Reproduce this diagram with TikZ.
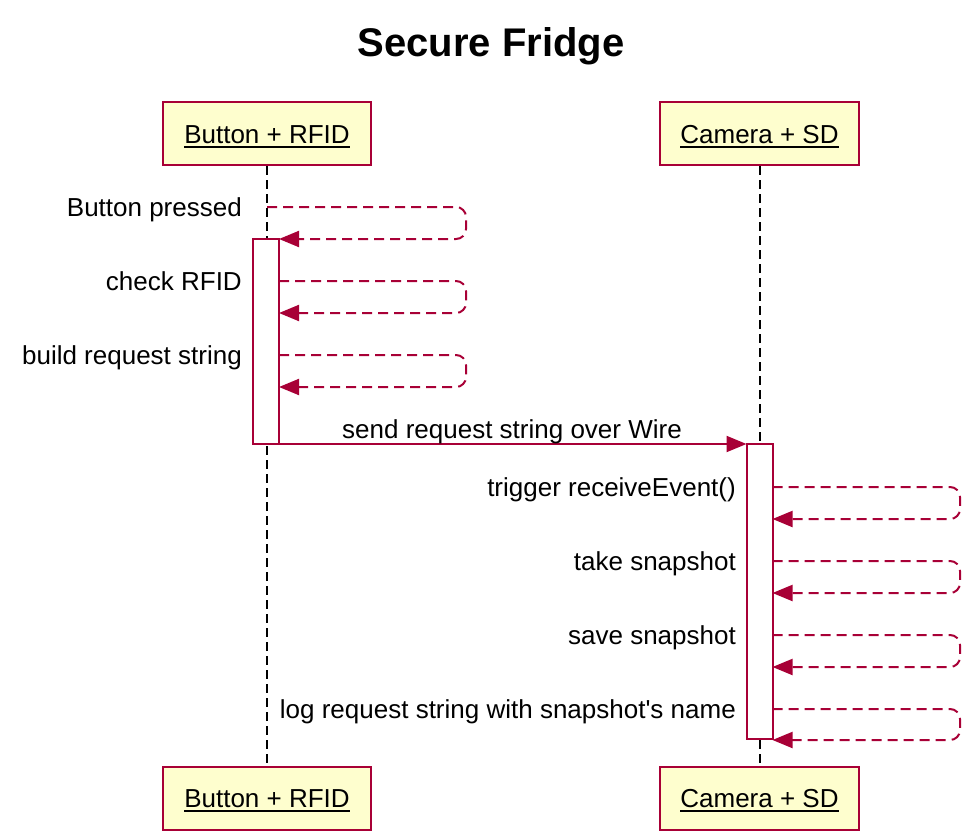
\documentclass[tikz,border=0pt]{standalone}
\usepackage{fontspec}
\setmainfont{Liberation Sans}
\usetikzlibrary{arrows.meta}
\definecolor{umlred}{HTML}{A80036}
\definecolor{umlfill}{HTML}{FEFECE}
\tikzset{
  pbox/.style={draw=umlred, fill=umlfill, line width=2pt, minimum height=63pt, inner sep=0pt},
  ptext/.style={inner sep=0pt, font=\fontsize{26}{31}\selectfont},
  uline/.style={line width=2pt, black},
  life/.style={line width=2pt, black, dash pattern=on 9pt off 5pt},
  actbox/.style={draw=umlred, fill=white, line width=2pt, inner sep=0pt, outer sep=0pt},
  selfmsg/.style={umlred, line width=2pt, dash pattern=on 10pt off 6pt, rounded corners=10pt, -{Triangle[length=20pt,width=16pt]}},
  msg/.style={umlred, line width=2pt, -{Triangle[length=20pt,width=16pt]}},
  lbl/.style={inner sep=0pt, font=\fontsize{26}{31}\selectfont},
}
\begin{document}
\begin{tikzpicture}[x=1pt, y=-1pt]
\useasboundingbox (0,0) rectangle (980,832);
% title
\node[inner sep=0pt, anchor=base, font=\fontsize{40}{48}\selectfont\bfseries] (title) at (491,57) {Secure Fridge};
% participants
\node[pbox, minimum width=208pt] (p1) at (267,133.5) {};
\node[pbox, minimum width=199pt] (p2) at (759.5,133.5) {};
\node[pbox, minimum width=208pt] (p1b) at (267,798) {};
\node[pbox, minimum width=199pt] (p2b) at (759.5,798) {};
% lifelines
\draw[life] (p1.south) -- (p1b.north);
\draw[life] (p2.south) -- (p2b.north);
% participant texts
\node[ptext, anchor=base] (p1t) at (p1.center |- 0,143) {Button + RFID};
\node[ptext, anchor=base] (p2t) at (p2.center |- 0,143) {Camera + SD};
\node[ptext, anchor=base] (p1bt) at (p1b.center |- 0,807) {Button + RFID};
\node[ptext, anchor=base] (p2bt) at (p2b.center |- 0,807) {Camera + SD};
\foreach \t in {p1t,p2t,p1bt,p2bt}
  \draw[uline] ([yshift=-4pt]\t.base west) -- ([yshift=-4pt]\t.base east);
% activations
\node[actbox, minimum width=26pt, minimum height=205pt] (act1) at (266,341.5) {};
\node[actbox, minimum width=26pt, minimum height=295pt] (act2) at (759.5,591.5) {};
% left self messages
\coordinate (s1a) at (267,207);
\draw[selfmsg] (s1a) -- (466,207) -- (466,239) -- (act1.north east);
\node[lbl, anchor=base east] (t1) at (242,216) {Button pressed};
\coordinate (s2a) at (279,281); \coordinate (s2b) at (279,313);
\draw[selfmsg] (s2a) -- (466,281) -- (466,313) -- (s2b);
\node[lbl, anchor=base east] (t2) at (242,290) {check RFID};
\coordinate (s3a) at (279,355); \coordinate (s3b) at (279,387);
\draw[selfmsg] (s3a) -- (466,355) -- (466,387) -- (s3b);
\node[lbl, anchor=base east] (t3) at (242,364) {build request string};
% main message
\draw[msg] (act1.south east) -- (act2.north west);
\node[lbl, anchor=base] (t4) at (512,438) {send request string over Wire};
% right self messages
\coordinate (r1a) at (772.5,487); \coordinate (r1b) at (772.5,519);
\draw[selfmsg] (r1a) -- (960,487) -- (960,519) -- (r1b);
\node[lbl, anchor=base east] (u1) at (736,496) {trigger receiveEvent()};
\coordinate (r2a) at (772.5,561); \coordinate (r2b) at (772.5,593);
\draw[selfmsg] (r2a) -- (960,561) -- (960,593) -- (r2b);
\node[lbl, anchor=base east] (u2) at (736,570) {take snapshot};
\coordinate (r3a) at (772.5,635); \coordinate (r3b) at (772.5,667);
\draw[selfmsg] (r3a) -- (960,635) -- (960,667) -- (r3b);
\node[lbl, anchor=base east] (u3) at (736,644) {save snapshot};
\coordinate (r4a) at (772.5,709); \coordinate (r4b) at (772.5,740);
\draw[selfmsg] (r4a) -- (960,709) -- (960,740) -- (r4b);
\node[lbl, anchor=base east] (u4) at (736,718) {log request string with snapshot\textquotesingle s name};
\end{tikzpicture}
\end{document}
